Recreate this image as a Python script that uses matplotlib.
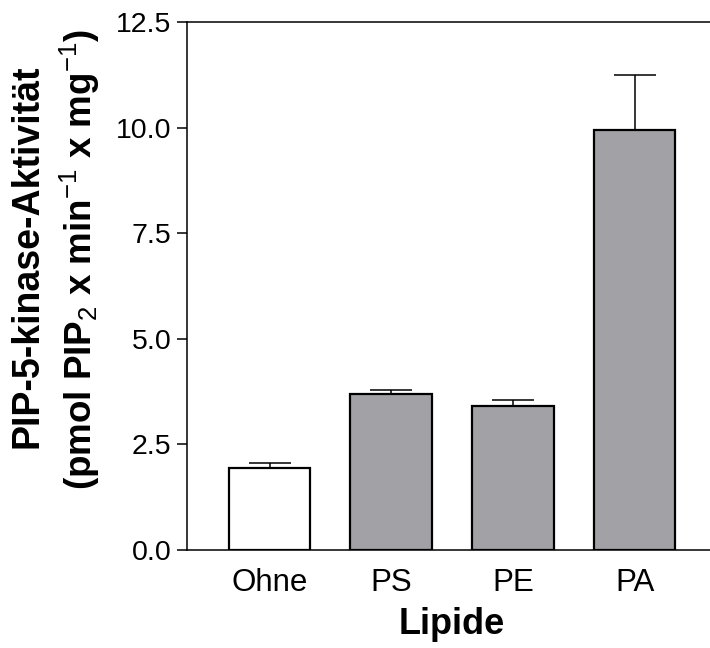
import matplotlib
matplotlib.use("Agg")
import matplotlib.pyplot as plt

categories = ["Ohne", "PS", "PE", "PA"]
means = [1.95, 3.69, 3.41, 9.94]
errors = [0.10, 0.09, 0.14, 1.31]
colors = ["#ffffff", "#a2a1a6", "#a2a1a6", "#a2a1a6"]
yticks = [0.0, 2.5, 5.0, 7.5, 10.0, 12.5]

plt.rcParams['font.family'] = ['Liberation Sans', 'DejaVu Sans']
plt.rcParams['mathtext.fontset'] = 'custom'
plt.rcParams['mathtext.rm'] = 'Liberation Sans'
plt.rcParams['mathtext.it'] = 'Liberation Sans:italic'
plt.rcParams['mathtext.bf'] = 'Liberation Sans:bold'

fig = plt.figure(figsize=(7.1, 6.48), dpi=100)
ax = fig.add_axes([186.5/710, (648-550)/648, 1 - 186.5/710, (550-22)/648])

x = list(range(len(categories)))
ax.bar(x, means, width=0.67, color=colors, edgecolor='black', linewidth=1.6, zorder=3)
ax.errorbar(x, means, yerr=[[0]*len(errors), errors], fmt='none', ecolor='black',
            elinewidth=1.1, capsize=15, capthick=1.1, zorder=2)

ax.set_xlim(-0.683, 3.62)
ax.set_ylim(0, 12.5)
ax.set_yticks(yticks)
ax.set_yticklabels([f"{v:.1f}" for v in yticks])
ax.set_xticks(x)
ax.set_xticklabels(categories)
ax.spines['right'].set_visible(False)
for s in ['left', 'top', 'bottom']:
    ax.spines[s].set_linewidth(1.1)
ax.tick_params(axis='y', direction='out', length=7, width=1.1, pad=4, labelsize=20.5)
ax.tick_params(axis='x', length=0, pad=13, labelsize=22.5)

fig.text(452/710, 1 - 634/648, "Lipide", fontsize=26, fontweight='bold',
         ha='center', va='baseline')
fig.text(28/710, 1 - 256/648, "PIP-5-kinase-Aktivität", fontsize=27, fontweight='bold',
         rotation=90, ha='center', va='center')
fig.text(80/710, 1 - 259/648, r"(pmol PIP$_2$ x min$^{-1}$ x mg$^{-1}$)", fontsize=26.5,
         fontweight='bold', rotation=90, ha='center', va='center')

fig.savefig("out.png", dpi=100)
